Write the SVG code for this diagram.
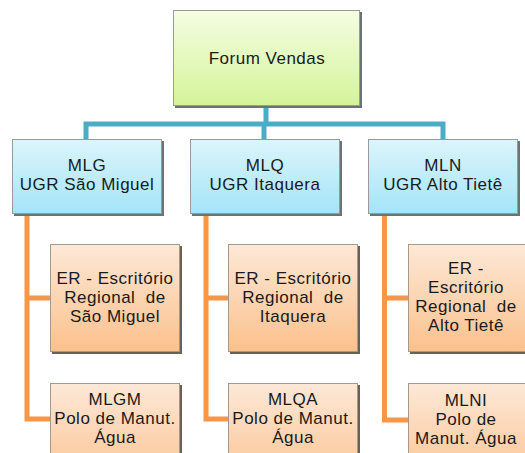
<svg xmlns="http://www.w3.org/2000/svg" width="525" height="453" viewBox="0 0 525 453">
<defs>
<linearGradient id="gG" x1="0" y1="0" x2="0" y2="1"><stop offset="0" stop-color="#f5fde2"/><stop offset="1" stop-color="#d4f49a"/></linearGradient>
<linearGradient id="gB" x1="0" y1="0" x2="0" y2="1"><stop offset="0" stop-color="#dcf5fc"/><stop offset="1" stop-color="#a4e4f7"/></linearGradient>
<linearGradient id="gO" x1="0" y1="0" x2="0" y2="1"><stop offset="0" stop-color="#fde8d7"/><stop offset="1" stop-color="#fbc18c"/></linearGradient>
</defs>
<style>
.sh{fill:#6b6055}
.shb{fill:#6a7378}
.g{fill:url(#gG);stroke:#9a9a9a;stroke-width:1}
.b{fill:url(#gB);stroke:#9a9a9a;stroke-width:1}
.o{fill:url(#gO);stroke:#a89888;stroke-width:1}
text{font-family:"Liberation Sans",Arial,sans-serif;font-size:17px;fill:#1a1a1a;text-anchor:middle;letter-spacing:0.5px}
.cb{fill:none;stroke:#4bacc6;stroke-width:5}
.co{fill:none;stroke:#f79646;stroke-width:5}
</style>
<g id="connectors">
<path class="cb" d="M266 106V124M86 139V124H443V139M264 124V139"/>
<path class="co" d="M27 214V419H50M27 298H50"/>
<path class="co" d="M206 214V419H228M206 298H228"/>
<path class="co" d="M384.5 214V420H408M384.5 298H408"/>
</g>
<g id="forum">
<rect class="shb" x="175" y="12" width="187" height="96"/>
<rect class="g" x="173.5" y="10.5" width="186" height="95"/>
<text x="267" y="64">Forum Vendas</text>
</g>
<g id="mlg">
<rect class="shb" x="14" y="141" width="150" height="75"/>
<rect class="b" x="12.5" y="139.5" width="149" height="74"/>
<text x="87" y="171">MLG</text>
<text x="87" y="190">UGR São Miguel</text>
</g>
<g id="mlq">
<rect class="shb" x="192" y="141" width="150" height="75"/>
<rect class="b" x="190.5" y="139.5" width="149" height="74"/>
<text x="265" y="171">MLQ</text>
<text x="265" y="190">UGR Itaquera</text>
</g>
<g id="mln">
<rect class="shb" x="370" y="141" width="150" height="75"/>
<rect class="b" x="368.5" y="139.5" width="149" height="74"/>
<text x="443" y="171">MLN</text>
<text x="443" y="190">UGR Alto Tietê</text>
</g>
<g id="er1">
<rect class="sh" x="52" y="246" width="130" height="108"/>
<rect class="o" x="50.5" y="244.5" width="129" height="107"/>
<text x="115" y="284">ER - Escritório</text>
<text x="115" y="303" xml:space="preserve">Regional  de</text>
<text x="115" y="322">São Miguel</text>
</g>
<g id="er2">
<rect class="sh" x="230" y="246" width="130" height="108"/>
<rect class="o" x="228.5" y="244.5" width="129" height="107"/>
<text x="293" y="284">ER - Escritório</text>
<text x="293" y="303" xml:space="preserve">Regional  de</text>
<text x="293" y="322">Itaquera</text>
</g>
<g id="er3">
<rect class="sh" x="410" y="246" width="130" height="108"/>
<rect class="o" x="408.5" y="244.5" width="129" height="107"/>
<text x="466" y="274">ER -</text>
<text x="466" y="293">Escritório</text>
<text x="466" y="312" xml:space="preserve">Regional  de</text>
<text x="466" y="331">Alto Tietê</text>
</g>
<g id="mlgm">
<rect class="sh" x="52" y="385" width="130" height="108"/>
<rect class="o" x="50.5" y="383.5" width="129" height="107"/>
<text x="115" y="405">MLGM</text>
<text x="115" y="424">Polo de Manut.</text>
<text x="115" y="443">Água</text>
</g>
<g id="mlqa">
<rect class="sh" x="230" y="385" width="130" height="108"/>
<rect class="o" x="228.5" y="383.5" width="129" height="107"/>
<text x="293" y="405">MLQA</text>
<text x="293" y="424">Polo de Manut.</text>
<text x="293" y="443">Água</text>
</g>
<g id="mlni">
<rect class="sh" x="410" y="385" width="130" height="108"/>
<rect class="o" x="408.5" y="383.5" width="129" height="107"/>
<text x="466" y="406">MLNI</text>
<text x="466" y="425">Polo de</text>
<text x="466" y="444">Manut. Água</text>
</g>
</svg>
